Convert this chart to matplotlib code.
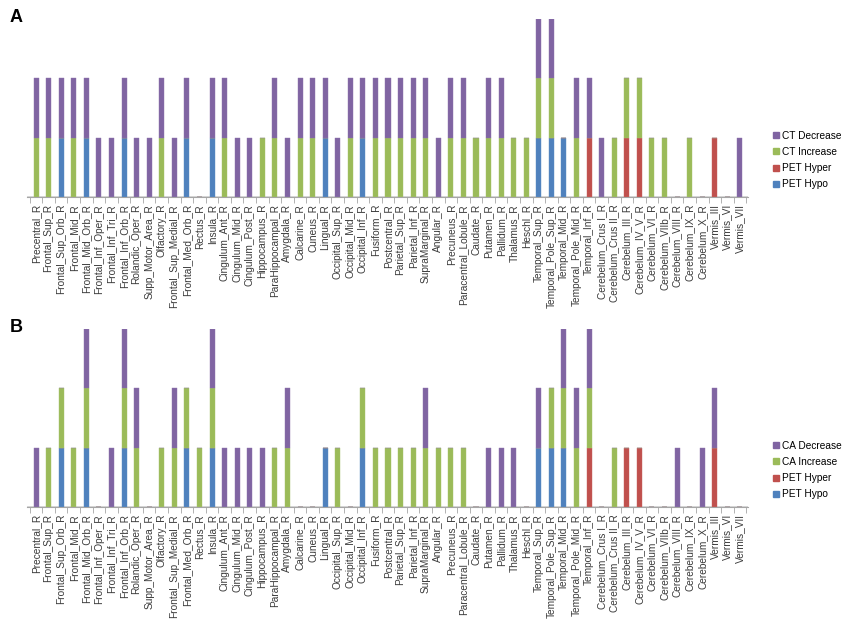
import matplotlib.pyplot as plt
import numpy as np
from matplotlib.lines import Line2D

regions = [
    'Precentral_R', 'Frontal_Sup_R', 'Frontal_Sup_Orb_R', 'Frontal_Mid_R', 'Frontal_Mid_Orb_R',
    'Frontal_Inf_Oper_R', 'Frontal_Inf_Tri_R', 'Frontal_Inf_Orb_R', 'Rolandic_Oper_R', 'Supp_Motor_Area_R',
    'Olfactory_R', 'Frontal_Sup_Medial_R', 'Frontal_Med_Orb_R', 'Rectus_R', 'Insula_R',
    'Cingulum_Ant_R', 'Cingulum_Mid_R', 'Cingulum_Post_R', 'Hippocampus_R', 'ParaHippocampal_R',
    'Amygdala_R', 'Calcarine_R', 'Cuneus_R', 'Lingual_R', 'Occipital_Sup_R',
    'Occipital_Mid_R', 'Occipital_Inf_R', 'Fusiform_R', 'Postcentral_R', 'Parietal_Sup_R',
    'Parietal_Inf_R', 'SupraMarginal_R', 'Angular_R', 'Precuneus_R', 'Paracentral_Lobule_R',
    'Caudate_R', 'Putamen_R', 'Pallidum_R', 'Thalamus_R', 'Heschl_R',
    'Temporal_Sup_R', 'Temporal_Pole_Sup_R', 'Temporal_Mid_R', 'Temporal_Pole_Mid_R', 'Temporal_Inf_R',
    'Cerebelum_Crus I_R', 'Cerebelum_Crus II_R', 'Cerebelum_III_R', 'Cerebelum_IV_V_R', 'Cerebelum_VI_R',
    'Cerebelum_VIIb_R', 'Cerebelum_VIII_R', 'Cerebelum_IX_R', 'Cerebelum_X_R', 'Vermis_III',
    'Vermis_VI', 'Vermis_VII',
]

# panel A: cortical thickness vs PET
hypo_a = [0, 0, 1, 0, 1, 0, 0, 1, 0, 0,  0, 0, 1, 0, 1, 0, 0, 0, 0, 0,
          0, 0, 0, 1, 0, 0, 1, 0, 0, 0,  0, 0, 0, 0, 0, 0, 0, 0, 0, 0,
          1, 1, 1, 0, 0, 0, 0, 0, 0, 0,  0, 0, 0, 0, 0, 0, 0]
hyper_a = [0, 0, 0, 0, 0, 0, 0, 0, 0, 0,  0, 0, 0, 0, 0, 0, 0, 0, 0, 0,
           0, 0, 0, 0, 0, 0, 0, 0, 0, 0,  0, 0, 0, 0, 0, 0, 0, 0, 0, 0,
           0, 0, 0, 0, 1, 0, 0, 1, 1, 0,  0, 0, 0, 0, 1, 0, 0]
inc_a = [1, 1, 0, 1, 0, 0, 0, 0, 0, 0,  1, 0, 0, 0, 0, 1, 0, 0, 1, 1,
         0, 1, 1, 0, 0, 1, 0, 1, 1, 1,  1, 1, 0, 1, 1, 1, 1, 1, 1, 1,
         1, 1, 0, 1, 0, 0, 1, 1, 1, 1,  1, 0, 1, 0, 0, 0, 0]
dec_a = [1, 1, 1, 1, 1, 1, 1, 1, 1, 1,  1, 1, 1, 0, 1, 1, 1, 1, 0, 1,
         1, 1, 1, 1, 1, 1, 1, 1, 1, 1,  1, 1, 1, 1, 1, 0, 1, 1, 0, 0,
         1, 1, 0, 1, 1, 1, 0, 0, 0, 0,  0, 0, 0, 0, 0, 0, 1]

# panel B: cortical area vs PET
hypo_b = [0, 0, 1, 0, 1, 0, 0, 1, 0, 0,  0, 0, 1, 0, 1, 0, 0, 0, 0, 0,
          0, 0, 0, 1, 0, 0, 1, 0, 0, 0,  0, 0, 0, 0, 0, 0, 0, 0, 0, 0,
          1, 1, 1, 0, 0, 0, 0, 0, 0, 0,  0, 0, 0, 0, 0, 0, 0]
hyper_b = [0, 0, 0, 0, 0, 0, 0, 0, 0, 0,  0, 0, 0, 0, 0, 0, 0, 0, 0, 0,
           0, 0, 0, 0, 0, 0, 0, 0, 0, 0,  0, 0, 0, 0, 0, 0, 0, 0, 0, 0,
           0, 0, 0, 0, 1, 0, 0, 1, 1, 0,  0, 0, 0, 0, 1, 0, 0]
inc_b = [0, 1, 1, 1, 1, 0, 0, 1, 1, 0,  1, 1, 1, 1, 1, 0, 0, 0, 0, 1,
         1, 0, 0, 0, 1, 0, 1, 1, 1, 1,  1, 1, 1, 1, 1, 0, 0, 0, 0, 0,
         0, 1, 1, 1, 1, 0, 1, 0, 0, 0,  0, 0, 0, 0, 0, 0, 0]
dec_b = [1, 0, 0, 0, 1, 0, 1, 1, 1, 0,  0, 1, 0, 0, 1, 1, 1, 1, 1, 0,
         1, 0, 0, 0, 0, 0, 0, 0, 0, 0,  0, 1, 0, 0, 0, 0, 1, 1, 1, 0,
         1, 0, 1, 1, 1, 0, 0, 0, 0, 0,  0, 1, 0, 1, 1, 0, 0]

COL_HYPO = '#4F81BD'
COL_HYPER = '#C0504D'
COL_INC = '#9BBB59'
COL_DEC = '#8064A2'

plt.rcParams['font.family'] = ['Liberation Sans', 'DejaVu Sans']

fig = plt.figure(figsize=(8.5, 6.32), dpi=100)
ax_a = fig.add_axes([27 / 850, 1 - 197 / 632, 721 / 850, 178 / 632])
ax_b = fig.add_axes([27 / 850, 1 - 507 / 632, 721 / 850, 178 / 632])


def draw_panel(ax, hypo, hyper, inc, dec, prefix):
    x = np.arange(len(regions))
    hypo = np.array(hypo)
    hyper = np.array(hyper)
    inc = np.array(inc)
    dec = np.array(dec)
    w = 0.4
    ax.bar(x, hypo, w, color=COL_HYPO, edgecolor='#5B8CC4', linewidth=0.3)
    ax.bar(x, hyper, w, bottom=hypo, color=COL_HYPER, edgecolor='#C8625F', linewidth=0.3)
    ax.bar(x, inc, w, bottom=hypo + hyper, color=COL_INC, edgecolor='#A8C46C', linewidth=0.3)
    ax.bar(x, dec, w, bottom=hypo + hyper + inc, color=COL_DEC, edgecolor='#8C73AC', linewidth=0.3)

    ax.set_xlim(-0.72, len(regions) - 1 + 0.64)
    ax.set_ylim(0, 3)
    for s in ['top', 'right', 'left']:
        ax.spines[s].set_visible(False)
    ax.spines['bottom'].set_color('#A6A6A6')
    ax.spines['bottom'].set_linewidth(0.8)
    ax.set_yticks([])
    ax.set_xticks(x)
    ax.set_xticklabels(regions, rotation=90, fontsize=7.3, color='#3A3A3A')
    ax.tick_params(axis='x', which='major', length=0, pad=5)
    ax.set_xticks(np.arange(len(regions) + 1) - 0.5, minor=True)
    ax.tick_params(axis='x', which='minor', length=4, color='#A6A6A6', width=0.6)
    # thin floor line just above the axis
    ax.axhline(0.025, color='#D0D0D0', linewidth=0.6, zorder=0)

    handles = [
        Line2D([], [], marker='s', linestyle='', markersize=3.8, color=COL_DEC, label=prefix + ' Decrease'),
        Line2D([], [], marker='s', linestyle='', markersize=3.8, color=COL_INC, label=prefix + ' Increase'),
        Line2D([], [], marker='s', linestyle='', markersize=3.8, color=COL_HYPER, label='PET Hyper'),
        Line2D([], [], marker='s', linestyle='', markersize=3.8, color=COL_HYPO, label='PET Hypo'),
    ]
    return handles


h_a = draw_panel(ax_a, hypo_a, hyper_a, inc_a, dec_a, 'CT')
h_b = draw_panel(ax_b, hypo_b, hyper_b, inc_b, dec_b, 'CA')

leg_kw = dict(loc='center left', frameon=False, fontsize=7.3, handletextpad=0.3,
              labelspacing=0.62, handlelength=0.6, borderaxespad=0, borderpad=0)
fig.legend(handles=h_a, bbox_to_anchor=(773 / 850, 1 - 160 / 632), **leg_kw)
fig.legend(handles=h_b, bbox_to_anchor=(773 / 850, 1 - 470 / 632), **leg_kw)

fig.text(10 / 850, 1 - 17 / 632, 'A', fontsize=13, fontweight='bold', va='center', ha='left')
fig.text(10 / 850, 1 - 328 / 632, 'B', fontsize=13, fontweight='bold', va='center', ha='left')

fig.savefig('out.png', dpi=100)
